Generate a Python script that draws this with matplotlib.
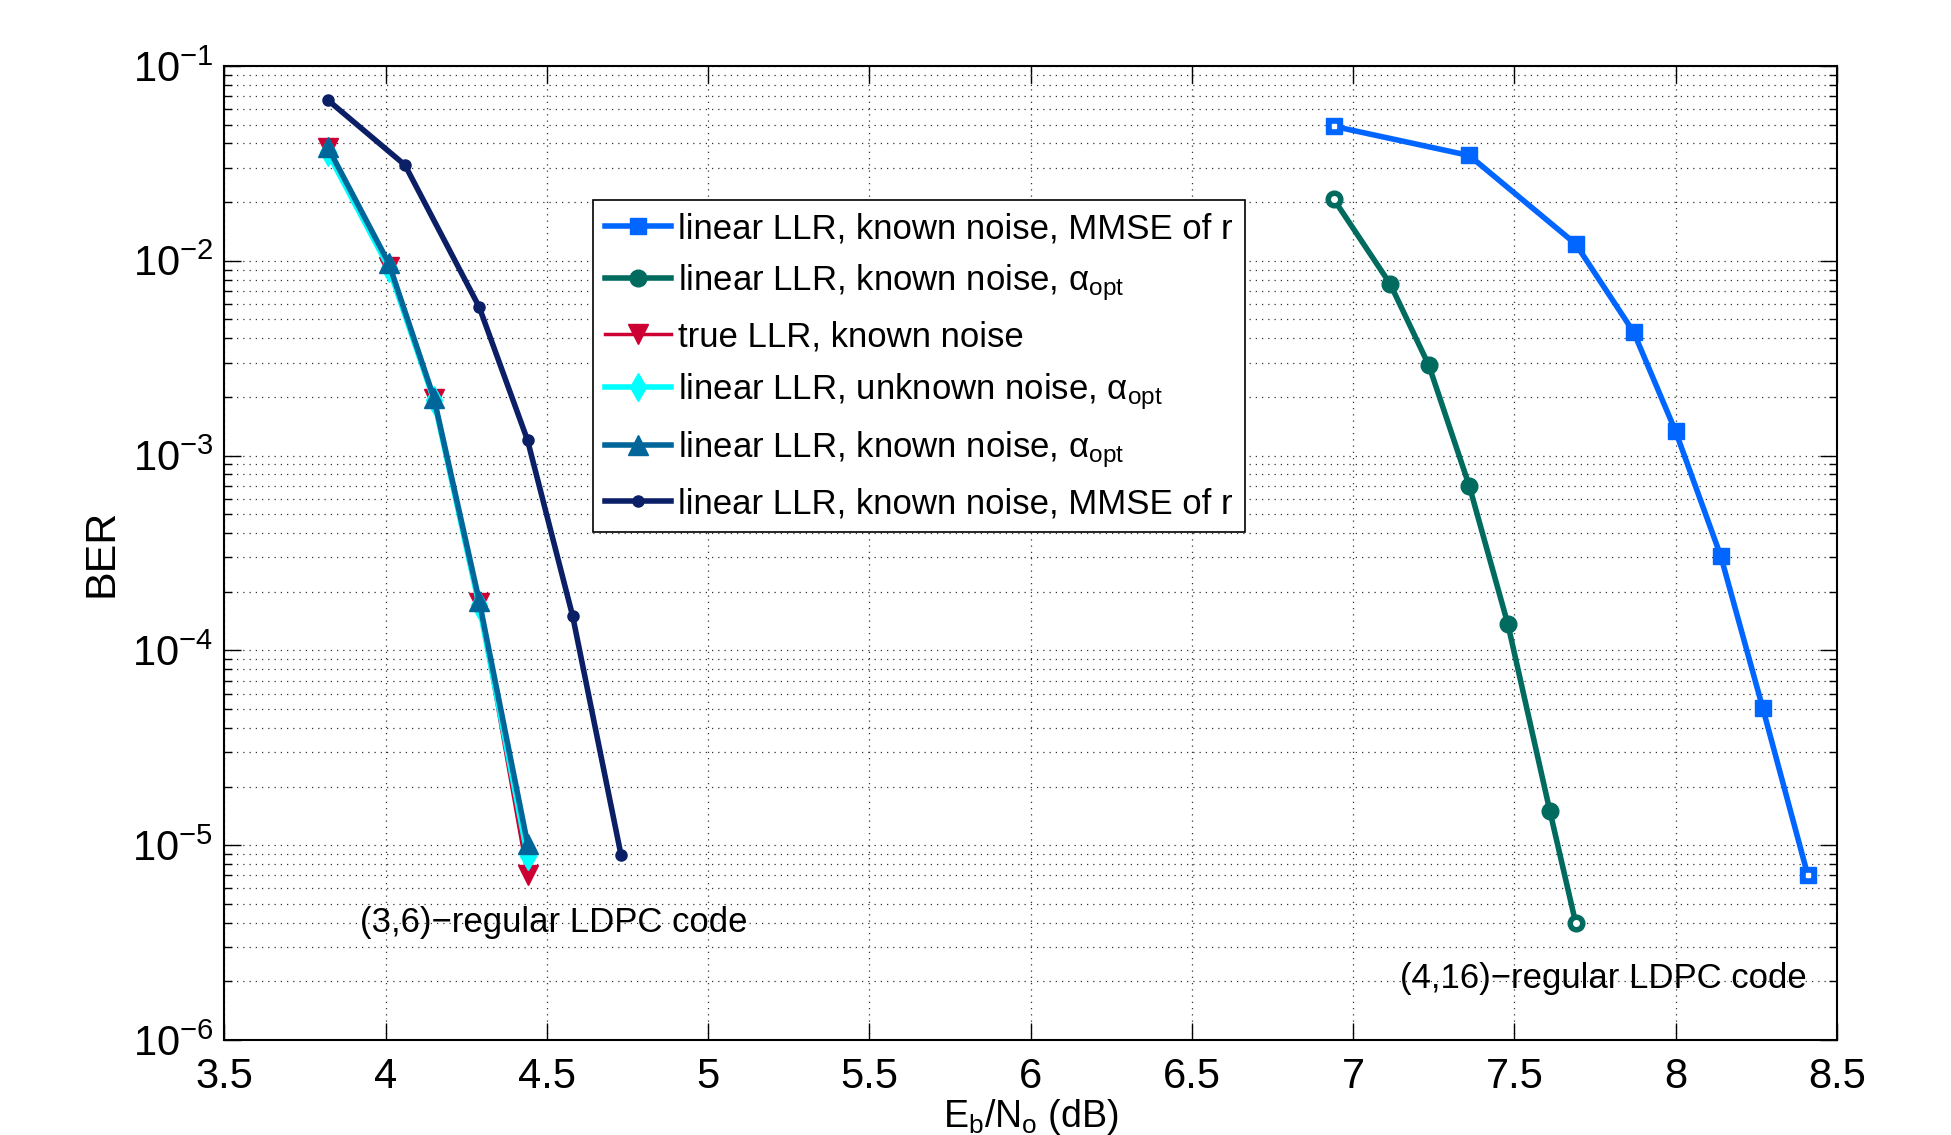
import matplotlib
matplotlib.use("Agg")
import matplotlib.pyplot as plt
from matplotlib.ticker import LogLocator, FixedLocator, NullFormatter

plt.rcParams['font.family'] = ['Liberation Sans', 'DejaVu Sans']
plt.rcParams['mathtext.fontset'] = 'custom'
plt.rcParams['mathtext.rm'] = 'Liberation Sans'
plt.rcParams['mathtext.it'] = 'Liberation Sans:italic'

# ---- data ----
# (4,16)-regular code
x_sq = [6.94, 7.36, 7.69, 7.87, 8.00, 8.14, 8.27, 8.41]
y_sq = [0.049, 0.0347, 0.0122, 0.0043, 0.00133, 3.05e-4, 5.07e-5, 7.0e-6]
x_circ = [6.94, 7.115, 7.235, 7.36, 7.48, 7.61, 7.69]
y_circ = [0.0207, 0.0076, 0.0029, 7.0e-4, 1.36e-4, 1.5e-5, 4.0e-6]
# (3,6)-regular code
x_true = [3.82, 4.01, 4.15, 4.29, 4.44]
y_true = [0.038, 0.0093, 0.00195, 1.75e-4, 7.0e-6]
x_unk = [3.82, 4.01, 4.15, 4.29, 4.44]
y_unk = [0.036, 0.0092, 0.00192, 1.7e-4, 8.8e-6]
x_tri = [3.82, 4.01, 4.15, 4.29, 4.44]
y_tri = [0.0385, 0.0097, 0.00197, 1.8e-4, 1.02e-5]
x_dot = [3.82, 4.06, 4.29, 4.44, 4.58, 4.73]
y_dot = [0.067, 0.031, 0.0058, 0.0012, 1.5e-4, 8.9e-6]

labels = [
    'linear LLR, known noise, MMSE of r',
    'linear LLR, known noise, \u03b1$_{\\mathrm{opt}}$',
    'true LLR, known noise',
    'linear LLR, unknown noise, \u03b1$_{\\mathrm{opt}}$',
    'linear LLR, known noise, \u03b1$_{\\mathrm{opt}}$',
    'linear LLR, known noise, MMSE of r',
]
xticks = [3.5, 4, 4.5, 5, 5.5, 6, 6.5, 7, 7.5, 8, 8.5]
xticklabels = ['3.5', '4', '4.5', '5', '5.5', '6', '6.5', '7', '7.5', '8', '8.5']

fig = plt.figure(figsize=(19.51, 11.35), dpi=100)
ax = fig.add_axes([0.115, 0.0837, 0.8265, 0.8582])

c_sq = '#0066ff'
c_circ = '#006b5e'
c_true = '#cc0033'
c_unk = '#00ffff'
c_tri = '#006699'
c_dot = '#0b1f66'

h1, = ax.semilogy(x_sq, y_sq, '-s', color=c_sq, lw=4, ms=12, label=labels[0])
h2, = ax.semilogy(x_circ, y_circ, '-o', color=c_circ, lw=4, ms=12, label=labels[1])
h3, = ax.semilogy(x_true, y_true, '-v', color=c_true, lw=2.5, ms=15, label=labels[2])
h4, = ax.semilogy(x_unk, y_unk, '-d', color=c_unk, lw=4, ms=14, label=labels[3])
h5, = ax.semilogy(x_tri, y_tri, '-^', color=c_tri, lw=4, ms=15, label=labels[4])
h6, = ax.semilogy(x_dot, y_dot, '-o', color=c_dot, lw=4, ms=8, label=labels[5])

# hollow-looking end markers as in the reference
ax.plot([x_sq[0], x_sq[-1]], [y_sq[0], y_sq[-1]], 's', color='white', ms=3, zorder=4)
ax.plot([x_circ[0], x_circ[-1]], [y_circ[0], y_circ[-1]], 'o', color='white', ms=4, zorder=4)

ax.set_xlim(3.5, 8.5)
ax.set_ylim(1e-6, 1e-1)
ax.xaxis.set_major_locator(FixedLocator(xticks))
ax.set_xticklabels(xticklabels)
ax.yaxis.set_major_locator(LogLocator(base=10, numticks=20))
ax.yaxis.set_minor_locator(LogLocator(base=10, subs=range(2, 10), numticks=20))
ax.yaxis.set_minor_formatter(NullFormatter())

ax.grid(True, which='major', axis='both', color='#333333', linestyle=(0, (1, 4)), lw=0.9)
ax.grid(True, which='minor', axis='y', color='#333333', linestyle=(0, (1, 4)), lw=0.9)

ax.tick_params(which='both', direction='in', top=True, right=True, labelsize=30)
ax.tick_params(which='major', length=12, width=1)
ax.tick_params(which='minor', length=6, width=1)
ax.tick_params(axis='x', pad=12)
ax.tick_params(axis='y', pad=8)
for s in ax.spines.values():
    s.set_linewidth(1.5)
    s.set_color('black')

ax.set_xlabel('E$_\\mathrm{b}$/N$_\\mathrm{o}$ (dB)', fontsize=27, labelpad=0)
ax.set_ylabel('BER', fontsize=31, labelpad=8)

leg = ax.legend(handles=[h1, h2, h3, h4, h5, h6], loc='upper left',
                bbox_to_anchor=(0.2288, 0.8624), fontsize=25, frameon=True,
                fancybox=False, edgecolor='black', framealpha=1,
                handlelength=1.9, handletextpad=0.2, borderpad=0.35,
                labelspacing=0.5, borderaxespad=0)
leg.get_frame().set_linewidth(1.2)

ax.text(3.92, 4.0e-6, '(3,6)\u2212regular LDPC code', fontsize=25, va='center', ha='left')
ax.text(7.145, 2.08e-6, '(4,16)\u2212regular LDPC code', fontsize=25, va='center', ha='left')

fig.savefig('out.png', dpi=100)
